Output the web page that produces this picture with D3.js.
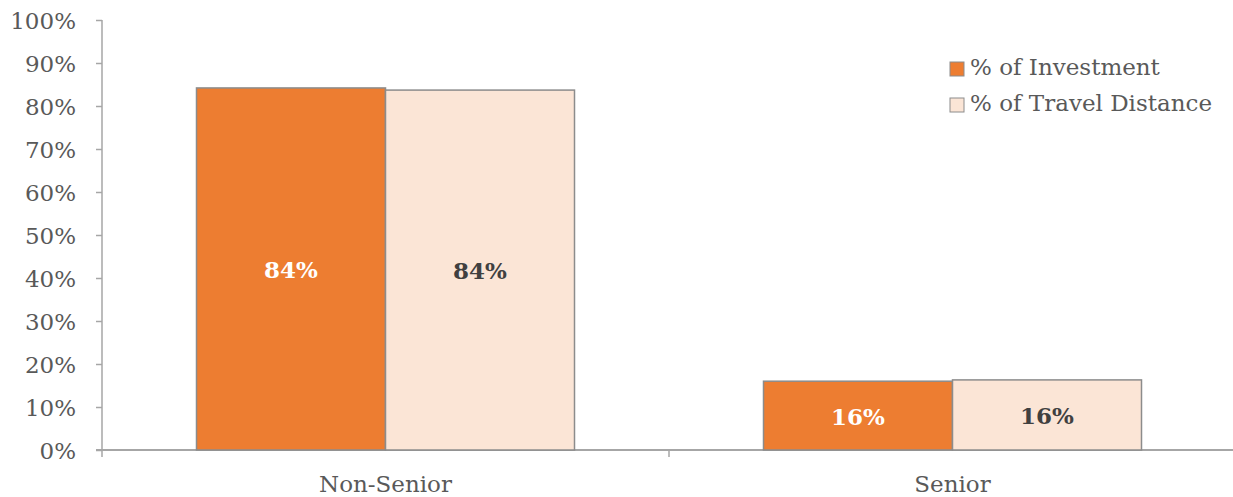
<!DOCTYPE html>
<html><head><meta charset="utf-8">
<script src="https://cdn.jsdelivr.net/npm/d3@7"></script>
<style>body{margin:0;background:#fff}svg{display:block}text{font-family:"DejaVu Serif","Liberation Serif",serif}</style>
</head><body>
<svg id="c" width="1233" height="497"></svg>
<script>
const categories = ["Non-Senior", "Senior"];
const seriesNames = ["% of Investment", "% of Travel Distance"];
const investment = [0.842, 0.160];
const travel = [0.837, 0.163];
const labels = [["84%", "84%"], ["16%", "16%"]];
const yTicks = [0,0.1,0.2,0.3,0.4,0.5,0.6,0.7,0.8,0.9,1.0];
const colors = ["#ED7D31", "#FBE5D6"];
const labelColors = ["#ffffff", "#404040"];

const svg = d3.select("#c");
const m = {l:102, r:1236, t:20, b:450};
const x0 = d3.scaleBand().domain(categories).range([m.l, m.r]).paddingInner(0).paddingOuter(0);
const x1 = d3.scaleBand().domain([0,1]).range([0, x0.bandwidth()]).paddingOuter(0.5).paddingInner(0);
const y = d3.scaleLinear().domain([0,1]).range([m.b, m.t]);

// y axis
const ya = svg.append("g").attr("transform",`translate(${m.l},0)`)
  .call(d3.axisLeft(y).tickValues(yTicks).tickFormat(d3.format(".0%")).tickSize(6).tickPadding(20));
ya.select(".domain").attr("stroke","#a6a6a6").attr("stroke-width",1.5).attr("d",`M0,${m.t}V${m.b}`);
ya.selectAll(".tick line").attr("stroke","#a6a6a6").attr("stroke-width",1.5);
ya.selectAll(".tick text").attr("fill","#595959").style("font-size","23px").attr("dy","0.36em");

// x axis
const xa = svg.append("g").attr("transform",`translate(0,${m.b})`);
xa.append("line").attr("x1",m.l-6).attr("x2",m.r).attr("stroke","#a6a6a6").attr("stroke-width",2);
const bounds = [m.l].concat(categories.map(c=>x0(c)+x0.bandwidth()));
xa.selectAll("line.t").data(bounds).join("line").attr("class","t")
  .attr("x1",d=>d).attr("x2",d=>d).attr("y1",0).attr("y2",7).attr("stroke","#a6a6a6").attr("stroke-width",1.5);
xa.selectAll("text").data(categories).join("text")
  .attr("x",d=>x0(d)+x0.bandwidth()/2).attr("y",42).attr("text-anchor","middle")
  .attr("fill","#595959").style("font-size","23px").text(d=>d);

// bars
const data = categories.map((c,i)=>[investment[i], travel[i]]);
categories.forEach((c,i)=>{
  const g = svg.append("g").attr("transform",`translate(${x0(c)},0)`);
  data[i].forEach((v,j)=>{
    g.append("rect").attr("x",x1(j)).attr("width",x1.bandwidth())
      .attr("y",y(v)).attr("height",y(0)-y(v))
      .attr("fill",colors[j]).attr("stroke","#8c8c8c").attr("stroke-width",1.5);
    g.append("text").attr("x",x1(j)+x1.bandwidth()/2).attr("y",(y(v)+y(0))/2+3)
      .attr("text-anchor","middle").attr("dominant-baseline","middle")
      .attr("fill",labelColors[j]).style("font-size","23px").style("font-weight","bold")
      .text(labels[i][j]);
  });
});

// legend
const lg = svg.append("g");
seriesNames.forEach((s,j)=>{
  const yy = 69 + j*36;
  lg.append("rect").attr("x",950).attr("y",yy-7).attr("width",14).attr("height",14)
    .attr("fill",colors[j]).attr("stroke","#8c8c8c").attr("stroke-width",1);
  lg.append("text").attr("x",970).attr("y",yy).attr("dominant-baseline","middle")
    .attr("fill","#595959").style("font-size","23px").text(s);
});
</script>
</body></html>
